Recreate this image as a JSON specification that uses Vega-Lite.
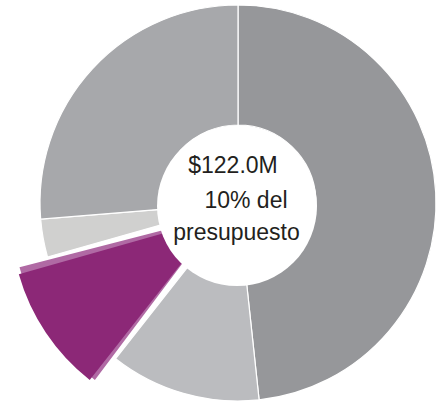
{
  "$schema": "https://vega.github.io/schema/vega-lite/v6.json",
  "autosize": {"type": "fit", "contains": "padding"},
  "width": 444,
  "height": 404,
  "padding": {"left": 32, "right": 0, "top": 2, "bottom": 0},
  "background": "white",
  "view": {"stroke": null},
  "datasets": {
    "slices": [
      {"cat": "A", "order": 1, "value": 48.3},
      {"cat": "B", "order": 2, "value": 12.3},
      {"cat": "C", "order": 3, "value": 10.0},
      {"cat": "D", "order": 4, "value": 3.1},
      {"cat": "E", "order": 5, "value": 26.3}
    ],
    "disc": [{"name": "centro"}],
    "center": [
      {"line": 1, "label": "$122.0M"},
      {"line": 2, "label": "10% del"},
      {"line": 3, "label": "presupuesto"}
    ]
  },
  "layer": [
    {
      "data": {"name": "slices"},
      "transform": [
        {"stack": "value", "groupby": [], "sort": [{"field": "order"}], "as": ["v0", "v1"]},
        {"filter": "datum.cat != 'C'"}
      ],
      "mark": {"type": "arc", "outerRadius": 198, "innerRadius": 78, "stroke": "white", "strokeWidth": 1.2},
      "encoding": {
        "theta": {"field": "v0", "type": "quantitative", "scale": {"domain": [0, 100]}},
        "theta2": {"field": "v1"},
        "color": {
          "field": "cat",
          "type": "nominal",
          "scale": {"domain": ["A", "B", "D", "E"], "range": ["#96979a", "#bbbcbf", "#d0d0cf", "#a7a8ab"]},
          "legend": null
        }
      }
    },
    {
      "data": {"name": "slices"},
      "transform": [
        {"stack": "value", "groupby": [], "sort": [{"field": "order"}], "as": ["v0", "v1"]},
        {"filter": "datum.cat == 'C'"}
      ],
      "mark": {"type": "arc", "outerRadius": 205, "innerRadius": 40, "color": "#b06aa4", "xOffset": -20, "yOffset": 13, "thetaOffset": -0.022, "theta2Offset": 0.024},
      "encoding": {
        "theta": {"field": "v0", "type": "quantitative", "scale": {"domain": [0, 100]}},
        "theta2": {"field": "v1"}
      }
    },
    {
      "data": {"name": "slices"},
      "transform": [
        {"stack": "value", "groupby": [], "sort": [{"field": "order"}], "as": ["v0", "v1"]},
        {"filter": "datum.cat == 'C'"}
      ],
      "mark": {"type": "arc", "outerRadius": 206, "innerRadius": 40, "color": "#8c2877", "xOffset": -21, "yOffset": 15},
      "encoding": {
        "theta": {"field": "v0", "type": "quantitative", "scale": {"domain": [0, 100]}},
        "theta2": {"field": "v1"}
      }
    },
    {
      "data": {"name": "disc"},
      "mark": {"type": "arc", "theta": 0, "theta2": 6.2832, "outerRadius": 80, "innerRadius": 0, "color": "white", "yOffset": 3, "xOffset": -1},
      "encoding": {}
    },
    {
      "data": {"name": "center"},
      "transform": [{"filter": "datum.line == 1"}],
      "mark": {"type": "text", "font": "Liberation Sans", "fontSize": 23, "color": "#231f20", "align": "center", "baseline": "alphabetic", "dx": -5, "dy": -30},
      "encoding": {"text": {"field": "label"}}
    },
    {
      "data": {"name": "center"},
      "transform": [{"filter": "datum.line == 2"}],
      "mark": {"type": "text", "font": "Liberation Sans", "fontSize": 23, "color": "#231f20", "align": "center", "baseline": "alphabetic", "dx": 8, "dy": 5},
      "encoding": {"text": {"field": "label"}}
    },
    {
      "data": {"name": "center"},
      "transform": [{"filter": "datum.line == 3"}],
      "mark": {"type": "text", "font": "Liberation Sans", "fontSize": 23, "color": "#231f20", "align": "center", "baseline": "alphabetic", "dx": -1.5, "dy": 37},
      "encoding": {"text": {"field": "label"}}
    }
  ]
}
